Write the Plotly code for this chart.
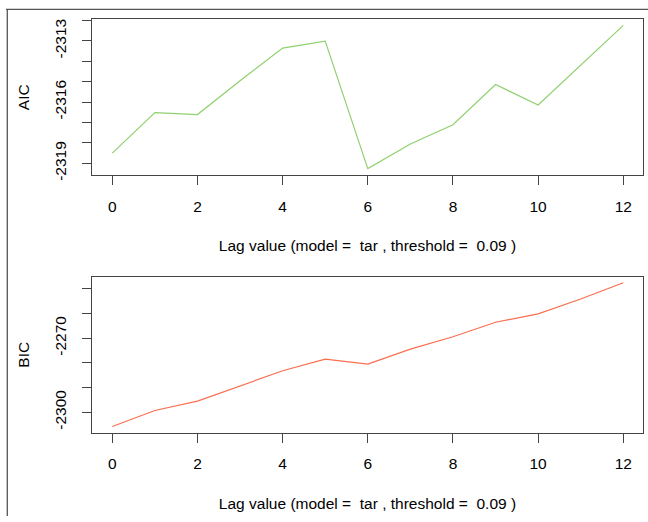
import plotly.graph_objects as go

lags = [0, 1, 2, 3, 4, 5, 6, 7, 8, 9, 10, 11, 12]
aic = [-2318.50, -2316.51, -2316.61, -2314.95, -2313.35, -2313.01, -2319.26,
       -2318.05, -2317.11, -2315.14, -2316.14, -2314.18, -2312.24]
bic = [-2305.8, -2299.3, -2295.5, -2289.3, -2283.2, -2278.5, -2280.5,
       -2274.4, -2269.4, -2263.5, -2260.1, -2254.1, -2247.5]

x_ticks = [0, 2, 4, 6, 8, 10, 12]
aic_ticks = [-2319, -2318, -2317, -2316, -2315, -2314, -2313, -2312]
aic_labels = ["-2319", "", "", "-2316", "", "", "-2313", ""]
bic_ticks = [-2300, -2290, -2280, -2270, -2260, -2250]
bic_labels = ["-2300", "", "", "-2270", "", ""]
xlab = "Lag value (model =  tar , threshold =  0.09 )"

W, H = 648, 522
FONT = dict(family="Liberation Sans, Arial, sans-serif", size=15.5, color="black")
AXC = "#444444"

fig = go.Figure()
fig.add_trace(go.Scatter(x=lags, y=aic, mode="lines", line=dict(color="#8FD16F", width=1.2),
                         xaxis="x", yaxis="y", showlegend=False))
fig.add_trace(go.Scatter(x=lags, y=bic, mode="lines", line=dict(color="#FA6E50", width=1.2),
                         xaxis="x2", yaxis="y2", showlegend=False))

xdom = [91.7 / W, 643.3 / W]
top_dom = [1 - 177.2 / H, 1 - 19.5 / H]
bot_dom = [1 - 437.7 / H, 1 - 280.0 / H]

xcommon = dict(range=[-0.484, 12.47], tickmode="array", tickvals=x_ticks,
               ticks="outside", ticklen=9, tickcolor=AXC, tickwidth=1,
               showline=True, linecolor=AXC, linewidth=1, mirror=True,
               showgrid=False, zeroline=False, tickfont=FONT,
               ticklabelstandoff=8, domain=xdom,
               title=dict(text=xlab, font=FONT, standoff=26))
ycommon = dict(ticks="outside", ticklen=9, tickcolor=AXC, tickwidth=1,
               showline=True, linecolor=AXC, linewidth=1, mirror=True,
               showgrid=False, zeroline=False, tickfont=FONT, tickangle=-90,
               ticklabelstandoff=10, tickmode="array")

fig.update_layout(
    width=W, height=H,
    margin=dict(l=0, r=0, t=0, b=0),
    paper_bgcolor="white", plot_bgcolor="white",
    font=FONT,
    xaxis=dict(xcommon, anchor="y"),
    yaxis=dict(ycommon, domain=top_dom, range=[-2319.58, -2311.94],
               tickvals=aic_ticks, ticktext=aic_labels, anchor="x",
               title=dict(text="AIC", font=FONT, standoff=18)),
    xaxis2=dict(xcommon, anchor="y2"),
    yaxis2=dict(ycommon, domain=bot_dom, range=[-2308.30, -2245.07],
                tickvals=bic_ticks, ticktext=bic_labels, anchor="x2",
                title=dict(text="BIC", font=FONT, standoff=18)),
    shapes=[
        dict(type="line", xref="paper", yref="paper", x0=6 / W, x1=1, y0=1 - 9.5 / H, y1=1 - 9.5 / H,
             line=dict(color="#555555", width=1.3)),
        dict(type="line", xref="paper", yref="paper", x0=7.3 / W, x1=7.3 / W, y0=0, y1=1 - 9.5 / H,
             line=dict(color="#555555", width=1.3)),
    ],
)

fig.write_html("out.html", config={"displayModeBar": False},
               post_script="document.body.style.margin='0';document.body.style.overflow='hidden';")
